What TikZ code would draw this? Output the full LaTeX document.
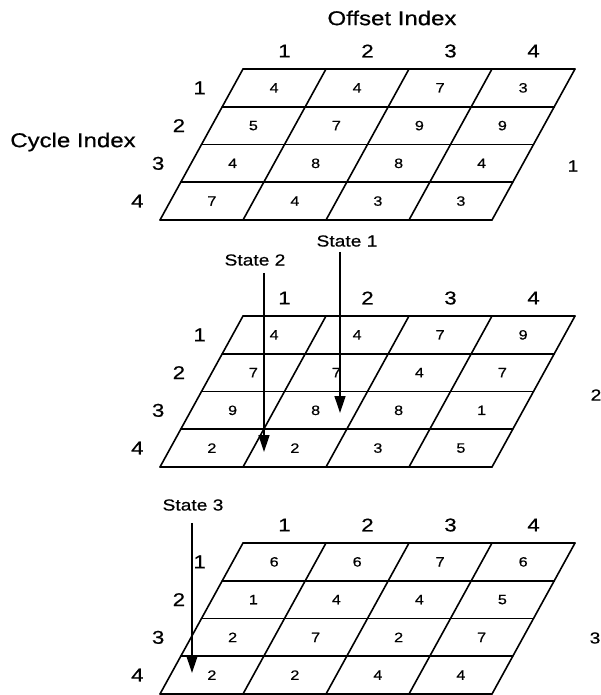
\documentclass[tikz,border=0pt]{standalone}
\usepackage{fontspec}
\setmainfont[FakeStretch=1.2,FakeBold=0.6]{Liberation Sans}
\usetikzlibrary{arrows.meta}

\begin{document}
\begin{tikzpicture}[x=1pt, y=-1pt,
  gline/.style={line width=1.6pt, line cap=round},
  val/.style={font=\fontsize{13.5}{15}\selectfont, inner sep=0pt},
  idx/.style={font=\fontsize{18.5}{20}\selectfont, inner sep=0pt},
  title/.style={font=\fontsize{20}{24}\selectfont, inner sep=0pt},
  lvl/.style={font=\fontsize{16}{18}\selectfont, inner sep=0pt},
  st/.style={font=\fontsize{16}{18}\selectfont, inner sep=0pt},
  arr/.style={-{Triangle[length=17pt,width=11pt]}, line width=1.3pt}
]
\useasboundingbox (0,0) rectangle (601,695);

\node[title] (offset) at (392,18) {Offset Index};
\node[title] (cycle) at (73,142) {Cycle Index};

% grid 1
\begin{scope}[shift={(243,69)}]
  \foreach \i in {0,...,4} \draw[gline] (-20.75*\i,37.75*\i) -- ++(332,0);
  \foreach \j in {0,...,4} \draw[gline] (83*\j,0) -- ++(-83,151);
  \foreach \j in {1,...,4} \node[idx] (g1-c\j) at (83*\j-41.5,-18) {\j};
  \foreach \i in {1,...,4} \node[idx] (g1-r\i) at (-20.75*\i-22.6,37.75*\i-18.9) {\i};
  \foreach \row [count=\i] in {{4,4,7,3},{5,7,9,9},{4,8,8,4},{7,4,3,3}}
    \foreach \v [count=\j] in \row
      \node[val] (g1-\i\j) at (83*\j-31.1-20.75*\i,37.75*\i-18.9) {\v};
\end{scope}
\node[lvl] (lvl1) at (573,166) {1};

% grid 2
\begin{scope}[shift={(243,316)}]
  \foreach \i in {0,...,4} \draw[gline] (-20.75*\i,37.75*\i) -- ++(332,0);
  \foreach \j in {0,...,4} \draw[gline] (83*\j,0) -- ++(-83,151);
  \foreach \j in {1,...,4} \node[idx] (g2-c\j) at (83*\j-41.5,-18) {\j};
  \foreach \i in {1,...,4} \node[idx] (g2-r\i) at (-20.75*\i-22.6,37.75*\i-18.9) {\i};
  \foreach \row [count=\i] in {{4,4,7,9},{7,7,4,7},{9,8,8,1},{2,2,3,5}}
    \foreach \v [count=\j] in \row
      \node[val] (g2-\i\j) at (83*\j-31.1-20.75*\i,37.75*\i-18.9) {\v};
\end{scope}
\node[lvl] (lvl2) at (596,395) {2};

% grid 3
\begin{scope}[shift={(243,543)}]
  \foreach \i in {0,...,4} \draw[gline] (-20.75*\i,37.75*\i) -- ++(332,0);
  \foreach \j in {0,...,4} \draw[gline] (83*\j,0) -- ++(-83,151);
  \foreach \j in {1,...,4} \node[idx] (g3-c\j) at (83*\j-41.5,-18) {\j};
  \foreach \i in {1,...,4} \node[idx] (g3-r\i) at (-20.75*\i-22.6,37.75*\i-18.9) {\i};
  \foreach \row [count=\i] in {{6,6,7,6},{1,4,4,5},{2,7,2,7},{2,2,4,4}}
    \foreach \v [count=\j] in \row
      \node[val] (g3-\i\j) at (83*\j-31.1-20.75*\i,37.75*\i-18.9) {\v};
\end{scope}
\node[lvl] (lvl3) at (595,638) {3};

% states
\node[st] (s1) at (347,241) {State 1};
\node[st] (s2) at (255,260) {State 2};
\node[st] (s3) at (193,505) {State 3};
\coordinate (s1tip) at (340,413);
\coordinate (s2tip) at (264,452);
\coordinate (s3tip) at (192,673);
\draw[arr] ([yshift=-5pt]s1.south -| s1tip) -- (s1tip);
\draw[arr] ([yshift=-7pt]s2.south -| s2tip) -- (s2tip);
\draw[arr] ([yshift=-12pt]s3.south -| s3tip) -- (s3tip);
\end{tikzpicture}
\end{document}
